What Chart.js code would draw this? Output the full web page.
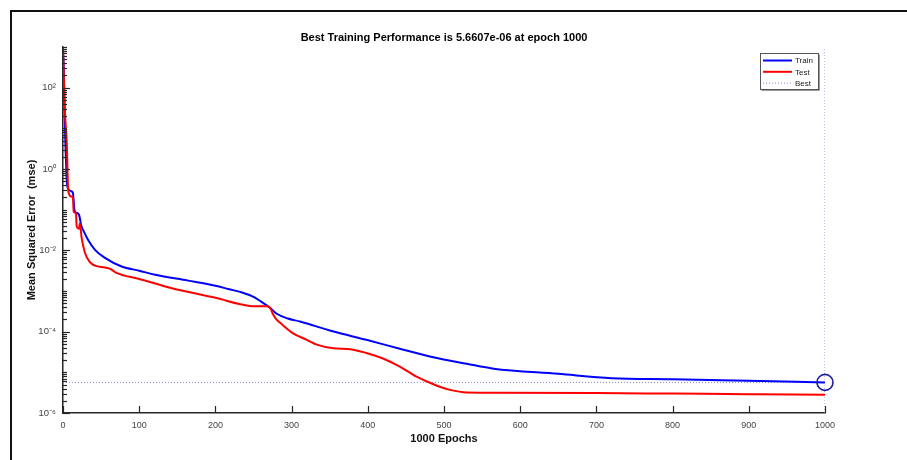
<!DOCTYPE html>
<html>
<head>
<meta charset="utf-8">
<script src="https://cdn.jsdelivr.net/npm/chart.js@4/dist/chart.umd.min.js"></script>
<style>
  html, body { margin: 0; padding: 0; background: #fff; overflow: hidden; }
  #wrap { position: relative; width: 907px; height: 460px; }
  #frame { position: absolute; left: 10px; top: 10px; width: 1200px; height: 1200px;
           border-left: 2px solid #111; border-top: 2px solid #111; pointer-events: none; }
  canvas { position: absolute; left: 0; top: 0; }
</style>
</head>
<body>
<div id="wrap">
  <canvas id="c" width="907" height="460"></canvas>
  <div id="frame"></div>
</div>
<script>
// ---- data ----
const titleText = 'Best Training Performance is 5.6607e-06 at epoch 1000';
const xTitle = '1000 Epochs';
const yTitle = 'Mean Squared Error  (mse)';
const legendLabels = ['Train', 'Test', 'Best'];

const trainEpochs = [0, 1, 2, 3, 4, 5, 7, 10, 13, 15, 17, 21, 24, 27, 33, 42, 55, 77, 100, 121, 164, 200, 217, 235, 250, 262, 272, 280, 295, 311, 354, 398, 442, 486, 530, 565, 650, 720, 800, 900, 1000];
const trainMSE = [800, 300, 30, 5, 1.5, 0.5, 0.32, 0.29, 0.26, 0.1, 0.085, 0.075, 0.04, 0.03, 0.018, 0.0103, 0.0065, 0.004, 0.00316, 0.0025, 0.0018, 0.00135, 0.00112, 0.00092, 0.00072, 0.00052, 0.00038, 0.00028, 0.00021, 0.000178, 0.000102, 0.000063, 0.000038, 0.0000234, 0.0000162, 0.0000123, 0.0000092, 0.0000072, 0.0000068, 0.0000062, 0.0000056607];

const testEpochs = [0, 1, 2.6, 4.8, 7, 11, 13, 14, 17, 18, 21, 22, 24.5, 29, 35, 42, 55, 62, 70, 99, 143, 200, 245, 262, 268, 272, 276, 280, 285, 302, 320, 333, 355, 377, 398, 420, 442, 464, 486, 508, 530, 573, 700, 800, 900, 1000];
const testMSE = [1000, 200, 24, 5.1, 0.28, 0.21, 0.2, 0.09, 0.08, 0.038, 0.034, 0.046, 0.02, 0.0085, 0.0052, 0.0042, 0.0038, 0.0035, 0.0028, 0.002, 0.00117, 0.00068, 0.00043, 0.00042, 0.00042, 0.00038, 0.00026, 0.0002, 0.000165, 0.000091, 0.000063, 0.000048, 0.000039, 0.000037, 0.00003, 0.0000219, 0.0000138, 0.0000078, 0.0000051, 0.0000037, 0.0000032, 0.00000316, 0.0000031, 0.000003, 0.0000029, 0.0000028];

const bestEpoch = 1000;
const bestMSE = 5.6607e-6;
const xMin = 0, xMax = 1000, xStep = 100;
const yMinExp = -6, yMaxExp = 3;
const yLabelExps = [2, 0, -2, -4, -6];

// ---- helpers ----
const SUP = {'0':'\u2070','1':'\u00B9','2':'\u00B2','3':'\u00B3','4':'\u2074','5':'\u2075','6':'\u2076','7':'\u2077','8':'\u2078','9':'\u2079','-':'\u207B'};
function sup(n) { return String(n).split('').map(ch => SUP[ch]).join(''); }
function decadeExp(v) {
  const e = Math.round(Math.log10(v));
  return Math.abs(Math.log10(v) - e) < 1e-9 ? e : null;
}
const pts = (xs, ys) => xs.map((x, i) => ({x: x, y: ys[i]}));

const FONT = "'Liberation Sans', Arial, Helvetica, sans-serif";
const BLUE = '#0000ff', RED = '#ff0000', BEST = '#8585d0', CIRCLE = '#1c1ca0';

// title centred over the plot, inward tick marks, legend box
const decorPlugin = {
  id: 'decor',
  afterDraw(chart) {
    const ctx = chart.ctx, ca = chart.chartArea;
    const xs = chart.scales.x, ys = chart.scales.y;
    ctx.save();
    // title
    ctx.font = 'bold 11px ' + FONT;
    ctx.fillStyle = '#000';
    ctx.textAlign = 'center';
    ctx.textBaseline = 'middle';
    ctx.fillText(titleText, (ca.left + ca.right) / 2, 38);
    ctx.strokeStyle = '#262626';
    ctx.lineWidth = 1.2;
    // y ticks
    ys.ticks.forEach(t => {
      const y = Math.round(ys.getPixelForValue(t.value)) + 0.5;
      const e = decadeExp(t.value);
      const len = (e !== null && yLabelExps.includes(e)) ? 7 : 4;
      ctx.beginPath(); ctx.moveTo(ca.left, y); ctx.lineTo(ca.left + len, y); ctx.stroke();
    });
    // x ticks
    xs.ticks.forEach(t => {
      const x = Math.round(xs.getPixelForValue(t.value)) + 0.5;
      ctx.beginPath(); ctx.moveTo(x, ca.bottom); ctx.lineTo(x, ca.bottom - 7); ctx.stroke();
    });
    // legend
    const lx = 760, ly = 53, lw = 58, lh = 36;
    ctx.fillStyle = '#fff';
    ctx.fillRect(lx, ly, lw, lh);
    ctx.strokeStyle = '#555'; ctx.lineWidth = 1;
    ctx.strokeRect(lx + 0.5, ly + 0.5, lw, lh);
    ctx.strokeStyle = '#999';
    ctx.beginPath(); ctx.moveTo(lx + 1.5, ly + lh + 1.5); ctx.lineTo(lx + lw + 1.5, ly + lh + 1.5); ctx.lineTo(lx + lw + 1.5, ly + 1.5); ctx.stroke();
    const rows = [
      {label: legendLabels[0], color: BLUE, w: 2, dash: []},
      {label: legendLabels[1], color: RED, w: 2, dash: []},
      {label: legendLabels[2], color: BEST, w: 1, dash: [1, 2]}
    ];
    ctx.font = '8px ' + FONT;
    ctx.textBaseline = 'middle';
    ctx.textAlign = 'left';
    rows.forEach((r, i) => {
      const y = ly + 7.5 + i * 11.3;
      ctx.strokeStyle = r.color; ctx.lineWidth = r.w; ctx.setLineDash(r.dash);
      ctx.beginPath(); ctx.moveTo(lx + 3, y); ctx.lineTo(lx + 32, y); ctx.stroke();
      ctx.setLineDash([]);
      ctx.fillStyle = '#222';
      ctx.fillText(r.label, lx + 35, y + 0.5);
    });
    ctx.restore();
  }
};

new Chart(document.getElementById('c'), {
  type: 'line',
  data: {
    datasets: [
      { label: 'Best point', data: [{x: bestEpoch, y: bestMSE}], showLine: false,
        pointRadius: 8, pointHoverRadius: 8, pointStyle: 'circle', pointBorderColor: CIRCLE,
        pointBackgroundColor: 'rgba(0,0,0,0)', pointBorderWidth: 1.6, clip: false },
      { label: legendLabels[1], data: pts(testEpochs, testMSE), borderColor: RED, borderWidth: 2,
        pointRadius: 0, cubicInterpolationMode: 'monotone', fill: false },
      { label: legendLabels[0], data: pts(trainEpochs, trainMSE), borderColor: BLUE, borderWidth: 2,
        pointRadius: 0, cubicInterpolationMode: 'monotone', fill: false },
      { label: 'Best h', data: [{x: xMin, y: bestMSE}, {x: bestEpoch, y: bestMSE}], borderColor: BEST,
        borderWidth: 1, borderDash: [1, 2], pointRadius: 0 },
      { label: 'Best v', data: [{x: bestEpoch, y: Math.pow(10, yMinExp)}, {x: bestEpoch, y: Math.pow(10, yMaxExp)}],
        borderColor: BEST, borderWidth: 1, borderDash: [1, 2], pointRadius: 0 }
    ]
  },
  options: {
    responsive: false,
    animation: false,
    events: [],
    layout: { padding: { left: 0, right: 82, top: 47, bottom: 0 } },
    plugins: {
      legend: { display: false },
      tooltip: { enabled: false },
      title: { display: false }
    },
    scales: {
      x: {
        type: 'linear', min: xMin, max: xMax,
        afterFit(s) { s.height = 47; },
        grid: { display: false, drawTicks: false },
        border: { display: true, color: '#262626', width: 1.5 },
        ticks: { stepSize: xStep, padding: 7, color: '#444', maxRotation: 0,
                 font: { family: FONT, size: 9 },
                 callback(v) { return String(v); } },
        title: { display: true, text: xTitle, color: '#111',
                 font: { family: FONT, size: 11, weight: 'bold', lineHeight: 1.2 },
                 padding: { top: 0, bottom: 14 } }
      },
      y: {
        type: 'logarithmic', min: Math.pow(10, yMinExp), max: Math.pow(10, yMaxExp),
        afterFit(s) { s.width = 63; },
        afterBuildTicks(s) {
          const t = [];
          for (let e = yMinExp; e <= yMaxExp; e++) {
            for (let m = 1; m <= 9; m++) {
              const v = m * Math.pow(10, e);
              if (e === yMaxExp && m > 1) break;
              t.push({ value: v });
            }
          }
          s.ticks = t;
        },
        grid: { display: false, drawTicks: false },
        border: { display: true, color: '#262626', width: 1.5 },
        ticks: { padding: 7, color: '#444', autoSkip: false,
                 font: { family: FONT, size: 9.5 },
                 callback(v) {
                   const e = decadeExp(v);
                   return (e !== null && yLabelExps.includes(e)) ? '10' + sup(e) : '';
                 } },
        title: { display: true, text: yTitle, color: '#111',
                 font: { family: FONT, size: 11, weight: 'bold', lineHeight: 1.2 },
                 padding: { top: 25, bottom: 0 } }
      }
    }
  },
  plugins: [decorPlugin]
});
</script>
</body>
</html>
